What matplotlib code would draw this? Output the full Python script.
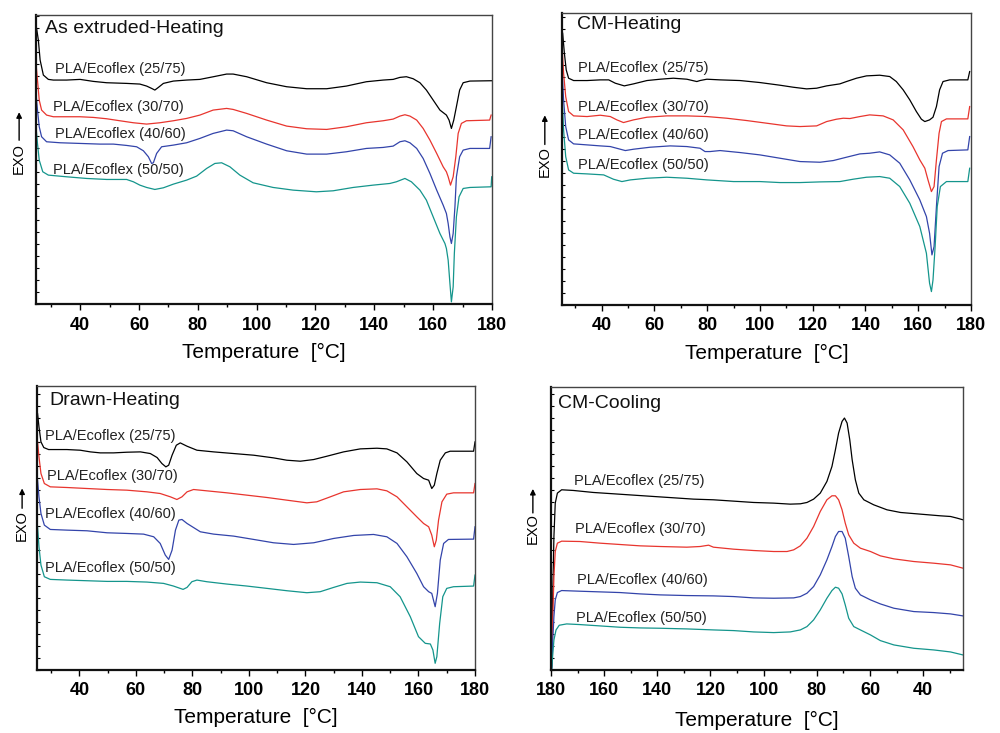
import matplotlib
matplotlib.use('Agg')
import matplotlib.pyplot as plt
from matplotlib.ticker import MultipleLocator

plt.rcParams['font.family'] = ['Liberation Sans', 'DejaVu Sans']

labels = ['PLA/Ecoflex (25/75)', 'PLA/Ecoflex (30/70)', 'PLA/Ecoflex (40/60)', 'PLA/Ecoflex (50/50)']
colors = ['black', '#e8352e', '#3344aa', '#14958c']

# ---- As extruded - heating (arbitrary heat flow units) ----
ext_t_2575 = [25.2, 25.8, 26.4, 27.5, 29.2, 30.9, 35.4, 40, 44.5, 49, 55.8, 60.3, 62.6, 64.3, 65.4, 66.6,
              68.3, 71.7, 76.2, 80.7, 85.3, 89.8, 92, 96.6, 103.4, 110.2, 117, 123.8, 130.5, 137.3, 143,
              146.4, 148.7, 150.9, 153.2, 155.5, 157.7, 160, 162.3, 164.5, 165.4, 166.2, 167, 167.9, 169,
              170.2, 172.5, 180]
ext_v_2575 = [827, 792, 732, 687, 674, 672, 672, 674, 668, 664, 662, 660, 654, 647, 642, 650, 662, 669, 672,
              674, 682, 690, 690, 682, 664, 652, 646, 646, 654, 667, 672, 674, 680, 682, 676, 664, 642, 612,
              582, 567, 552, 527, 552, 592, 642, 664, 669, 670]
ext_t_3070 = [25, 25.5, 26.1, 26.9, 28.6, 30.9, 35.4, 40, 44.5, 49, 53.5, 58.1, 62.6, 67.1, 71.7, 76.2, 80.7,
              85.2, 89.8, 92, 96.6, 103.4, 110.2, 117, 123.8, 130.5, 137.3, 143, 146.4, 148.7, 150.4, 152.1,
              154.4, 156.6, 158.9, 161.2, 163.4, 164.5, 165.1, 165.9, 166.8, 167.7, 168.5, 169.6, 171.3,
              179.2, 179.7]
ext_v_3070 = [722, 672, 612, 582, 567, 562, 562, 562, 560, 556, 550, 544, 540, 544, 550, 557, 567, 582, 587,
              584, 572, 552, 534, 526, 524, 532, 544, 550, 555, 564, 568, 564, 552, 527, 492, 452, 412, 397,
              382, 357, 382, 442, 512, 542, 550, 552, 567]
ext_t_4060 = [25, 25.5, 26.1, 26.9, 28.6, 33.2, 40, 46.7, 51.3, 55.8, 59.2, 61.5, 63.2, 64.3, 64.9, 66, 67.7,
              71.7, 76.2, 80.7, 85.2, 89.8, 92, 96.6, 103.4, 110.2, 117, 123.8, 130.5, 137.3, 143, 146.4,
              148.7, 150.4, 152.1, 154.4, 156.6, 158.9, 161.2, 163.4, 164.5, 165.1, 165.7, 166.2, 166.8,
              167.4, 167.9, 169, 170.2, 172.5, 179.2, 179.7]
ext_v_4060 = [632, 582, 532, 502, 487, 484, 482, 480, 480, 476, 472, 460, 442, 422, 424, 452, 472, 477, 484,
              497, 512, 522, 520, 502, 480, 460, 450, 450, 457, 467, 470, 474, 487, 490, 484, 467, 437, 392,
              342, 297, 272, 242, 202, 182, 212, 292, 382, 442, 462, 467, 467, 502]
ext_t_5050 = [25, 25.5, 26.1, 27.3, 29.2, 35.4, 42.2, 49, 55.8, 58.1, 60.3, 62.6, 65.4, 68.3, 71.7, 76.2,
              79.6, 83, 85.8, 88.1, 90.9, 94.3, 98.8, 105.6, 112.4, 120.3, 126, 132.8, 139.6, 145.3, 147.5,
              150.4, 152.6, 155.5, 157.7, 160, 162.3, 164, 164.5, 165.1, 165.7, 166.2, 166.8, 167.2, 167.9,
              168.8, 170.2, 172.5, 179.7, 179.9]
ext_v_5050 = [532, 482, 432, 397, 387, 382, 377, 374, 374, 367, 357, 350, 344, 349, 360, 372, 384, 407, 422,
              424, 412, 387, 364, 350, 342, 337, 340, 350, 357, 362, 367, 377, 367, 342, 312, 262, 212, 182,
              167, 132, 62, 7, 52, 152, 262, 322, 347, 350, 352, 382]

# ---- CM - heating ----
cmh_t_2575 = [25.25, 25.9, 26.6, 27.5, 29.4, 34.5, 39.5, 42.7, 45.2, 48.6, 52.1, 57.2, 62.2, 67.2, 72.3,
              76.1, 77.3, 79.9, 84.9, 92.5, 100, 107.6, 112.6, 117.7, 121.5, 125.3, 130.3, 132.8, 136.6,
              140.4, 145.4, 149.2, 151.7, 154.3, 156.8, 159.3, 161.2, 162.5, 164.3, 165.6, 166.9, 168.1,
              169.4, 171.9, 178.8, 179.5]
cmh_v_2575 = [815, 755, 705, 680, 673, 673, 675, 675, 665, 657, 663, 673, 677, 680, 677, 670, 673, 677, 675,
              673, 667, 659, 653, 648, 650, 657, 663, 670, 680, 687, 689, 685, 670, 645, 615, 580, 557, 550,
              555, 563, 595, 645, 670, 675, 675, 700]
cmh_t_3070 = [25.1, 25.6, 26.4, 27.5, 29.4, 34.5, 39.5, 43.3, 45.8, 48.3, 52.1, 57.2, 64.7, 72.3, 79.9, 87.4,
              95, 102.6, 110.1, 115.2, 121.5, 125.3, 129, 131.6, 134.1, 137.9, 141.6, 146.7, 150.5, 154.3,
              158, 160.6, 162.5, 163.7, 165, 166, 166.9, 167.9, 168.8, 170.7, 178.8, 179.5]
cmh_v_3070 = [765, 695, 625, 580, 567, 565, 569, 565, 555, 547, 555, 563, 567, 567, 565, 560, 553, 545, 537,
              535, 537, 550, 557, 560, 559, 565, 570, 567, 555, 525, 475, 435, 410, 375, 340, 355, 435, 515,
              550, 558, 558, 595]
cmh_t_4060 = [25.1, 25.6, 26.4, 27.5, 29.4, 34.5, 39.5, 43.3, 47.1, 49, 52.1, 58.4, 66, 72.3, 77.3, 79.2,
              81.1, 84.9, 92.5, 100, 107.6, 115.2, 122.8, 127.8, 132.8, 137.9, 141.6, 145.4, 149.2, 153,
              156.8, 160.6, 163.1, 164.3, 165.2, 166, 166.9, 167.9, 169.2, 171.3, 178.8, 179.5]
cmh_v_4060 = [695, 615, 535, 495, 483, 480, 477, 475, 467, 463, 467, 473, 477, 475, 470, 460, 460, 463, 457,
              450, 440, 430, 428, 433, 443, 453, 455, 459, 450, 425, 375, 315, 265, 215, 150, 175, 295, 415,
              455, 463, 465, 505]
cmh_t_5050 = [25.1, 25.6, 26.4, 27.5, 29.4, 34.5, 40.8, 44.5, 47.7, 50.9, 57.2, 64.7, 72.3, 79.9, 90, 100,
              107.6, 115.2, 122.8, 130.3, 135.3, 140.4, 145.4, 149.2, 153, 156.8, 160.6, 163.1, 164.3, 165,
              165.6, 166.4, 167.2, 168.4, 170.7, 178.8, 179.5]
cmh_v_5050 = [615, 525, 445, 405, 395, 393, 390, 377, 370, 375, 380, 383, 380, 375, 370, 370, 367, 367, 369,
              370, 377, 383, 385, 380, 355, 305, 235, 155, 65, 40, 75, 175, 295, 355, 370, 370, 410]

# ---- Drawn - heating ----
drw_t_2575 = [25.2, 25.7, 26.4, 27.4, 29.1, 35.6, 40.3, 43.9, 47.4, 52.1, 56.8, 61.6, 65.1, 67.5, 69.2, 70.6,
              71.6, 72.8, 74.3, 75.7, 78.1, 81.6, 87.5, 94.6, 101.7, 108.7, 113.4, 118.2, 122.9, 127.6,
              133.5, 139.4, 145.3, 148.8, 152.4, 155.9, 159.4, 161.8, 163.6, 164.7, 165.6, 166.5, 167.7,
              169.5, 171.2, 179.5, 180]
drw_v_2575 = [770, 730, 685, 668, 662, 662, 660, 655, 652, 652, 654, 655, 650, 638, 620, 610, 615, 645, 675,
              682, 672, 660, 655, 650, 645, 637, 630, 627, 632, 642, 655, 664, 666, 664, 652, 625, 590, 575,
              570, 545, 555, 590, 630, 652, 657, 657, 685]
drw_t_3070 = [25.2, 25.7, 26.4, 27.6, 29.7, 35.6, 42.7, 49.8, 56.8, 63.9, 68.6, 72.2, 74.5, 76.3, 78.1, 80.4,
              85.1, 92.2, 99.3, 106.4, 113.4, 120.5, 124, 128.8, 133.5, 139.4, 145.3, 148.8, 152.4, 155.9,
              159.4, 161.8, 163.6, 164.7, 165.6, 166.3, 167.1, 168.3, 170, 172.4, 179.5, 180]
drw_v_3070 = [685, 640, 590, 560, 550, 548, 545, 542, 540, 535, 530, 520, 512, 520, 535, 542, 538, 532, 525,
              518, 510, 502, 505, 520, 535, 542, 544, 538, 520, 490, 460, 440, 430, 405, 370, 390, 450, 505,
              528, 532, 532, 560]
drw_t_4060 = [25.2, 25.7, 26.4, 27.6, 29.7, 35.6, 42.7, 49.8, 56.8, 62.7, 66.3, 68.6, 70.4, 71.6, 72.8, 74,
              75.2, 76.3, 78.1, 82.8, 87.5, 94.6, 101.7, 108.7, 115.8, 122.9, 130, 137.1, 144.1, 148.8,
              152.4, 155.9, 159.4, 161.8, 163.6, 164.7, 165.3, 165.9, 166.7, 167.7, 168.9, 170.6, 179.5, 180]
drw_v_4060 = [570, 520, 470, 435, 422, 420, 418, 412, 410, 408, 400, 380, 345, 332, 360, 420, 450, 452, 440,
              415, 408, 402, 392, 382, 377, 382, 395, 404, 407, 400, 380, 340, 290, 250, 235, 230, 210, 190,
              230, 330, 380, 392, 393, 430]
drw_t_5050 = [25.2, 25.7, 26.4, 27.6, 29.7, 35.6, 42.7, 49.8, 56.8, 63.9, 69.8, 73.3, 76.7, 78.1, 79.8, 81.6,
              85.1, 92.2, 99.3, 106.4, 113.4, 120.5, 125.2, 130, 134.7, 139.4, 145.3, 150, 153.5, 157.1, 160,
              162.4, 164.2, 165.1, 165.9, 166.5, 167.5, 168.6, 170, 172.4, 179.5, 180]
drw_v_5050 = [430, 370, 315, 280, 272, 270, 268, 266, 266, 264, 260, 252, 242, 248, 265, 270, 265, 258, 252,
              245, 238, 232, 235, 248, 260, 264, 262, 250, 220, 160, 100, 80, 78, 60, 20, 40, 140, 220, 245,
              250, 252, 285]

# ---- CM - cooling ----
cmc_t_2575 = [180, 179.7, 179.4, 178.9, 178.4, 177.6, 176, 171.6, 164.1, 156.5, 149, 141.5, 133.9, 126.4,
              118.9, 111.3, 103.8, 96.2, 90, 86.2, 83.7, 81.2, 78.7, 76.2, 74.3, 73, 71.8, 70.5, 69.6, 68.6,
              67.6, 66.7, 65.5, 64.2, 62.3, 58.6, 53.6, 48.5, 41, 33.5, 29.7, 27.2, 25]
cmc_v_2575 = [0, 20, 200, 400, 500, 530, 540, 538, 532, 528, 524, 520, 516, 512, 510, 506, 502, 500, 497, 498,
              502, 512, 530, 565, 610, 660, 710, 745, 755, 740, 690, 630, 570, 530, 510, 495, 480, 472, 467,
              462, 460, 455, 450]
cmc_t_3070 = [180, 179.7, 179.4, 178.9, 178.4, 177.6, 176, 169.1, 161.5, 154, 146.5, 138.9, 128.9, 123.9,
              120.7, 118.9, 111.3, 103.8, 96.2, 91.2, 88.7, 86.2, 83.7, 81.2, 78.7, 76.2, 74.3, 73, 71.8,
              70.5, 69.3, 68, 66.1, 63.6, 59.8, 56.1, 51, 43.5, 36, 29.7, 25]
cmc_v_3070 = [0, 10, 140, 280, 355, 380, 386, 385, 380, 376, 372, 370, 368, 370, 374, 368, 362, 358, 355, 355,
              360, 372, 395, 430, 475, 510, 522, 522, 510, 480, 440, 405, 380, 365, 355, 342, 333, 325, 320,
              315, 305]
cmc_t_4060 = [180, 179.7, 179.4, 178.9, 178.4, 177.6, 176, 169.1, 161.5, 154, 146.5, 138.9, 128.9, 118.9,
              111.3, 103.8, 96.2, 88.7, 86.2, 83.7, 81.2, 78.7, 76.2, 74.3, 73, 71.8, 70.5, 69.3, 68, 66.7,
              65.5, 63.6, 59.8, 56.1, 51, 43.5, 36, 29.7, 25]
cmc_v_4060 = [0, 5, 80, 160, 210, 232, 238, 236, 234, 232, 228, 225, 223, 222, 220, 216, 215, 216, 220, 230,
              250, 285, 330, 370, 400, 415, 415, 395, 340, 280, 245, 225, 210, 198, 185, 175, 172, 168, 162]
cmc_t_5050 = [180, 179.7, 179.4, 178.9, 178.1, 176.9, 174.1, 169.1, 161.5, 154, 146.5, 138.9, 128.9, 118.9,
              111.3, 103.8, 96.2, 90, 86.2, 83.7, 81.2, 78.7, 76.2, 74.3, 73, 71.8, 70.5, 69.3, 68, 66.1,
              63.6, 59.8, 56.1, 51, 43.5, 36, 29.7, 25]
cmc_v_5050 = [0, 2, 40, 90, 120, 134, 138, 136, 132, 128, 126, 125, 123, 120, 118, 114, 112, 114, 120, 130,
              150, 180, 215, 238, 248, 245, 228, 195, 155, 130, 120, 105, 88, 75, 65, 60, 54, 45]

panels = [
    dict(title='As extruded-Heating', rect=[0.036, 0.585, 0.456, 0.3945], ymax=867, xlim=(25, 180),
         curves=[(ext_t_2575, ext_v_2575), (ext_t_3070, ext_v_3070), (ext_t_4060, ext_v_4060), (ext_t_5050, ext_v_5050)],
         lab_x=[31.5, 30.9, 31.5, 30.9], lab_y=[705, 592, 510, 402], title_xy=(28.1, 827),
         exo=(-0.037, 0.505), arrow=(0.567, 0.664), lpad=7),
    dict(title='CM-Heating', rect=[0.562, 0.584, 0.409, 0.398], ymax=875, xlim=(25, 180),
         curves=[(cmh_t_2575, cmh_v_2575), (cmh_t_3070, cmh_v_3070), (cmh_t_4060, cmh_v_4060), (cmh_t_5050, cmh_v_5050)],
         lab_x=[31.05, 31.05, 31.05, 31.05], lab_y=[710, 595, 510, 420], title_xy=(30.7, 840),
         exo=(-0.042, 0.493), arrow=(0.55, 0.65), lpad=7),
    dict(title='Drawn-Heating', rect=[0.037, 0.086, 0.438, 0.387], ymax=852, xlim=(25, 180),
         curves=[(drw_t_2575, drw_v_2575), (drw_t_3070, drw_v_3070), (drw_t_4060, drw_v_4060), (drw_t_5050, drw_v_5050)],
         lab_x=[27.9, 28.5, 27.9, 27.9], lab_y=[702, 582, 468, 305], title_xy=(29.5, 810),
         exo=(-0.034, 0.51), arrow=(0.57, 0.64), lpad=6),
    dict(title='CM-Cooling', rect=[0.551, 0.086, 0.412, 0.386], ymax=848, xlim=(180, 25),
         curves=[(cmc_t_2575, cmc_v_2575), (cmc_t_3070, cmc_v_3070), (cmc_t_4060, cmc_v_4060), (cmc_t_5050, cmc_v_5050)],
         lab_x=[171.3, 170.8, 170.3, 170.7], lab_y=[567, 422, 270, 155], title_xy=(177.2, 800),
         exo=(-0.044, 0.498), arrow=(0.555, 0.64), lpad=8),
]

fig = plt.figure(figsize=(10, 7.33), dpi=100)

for p in panels:
    ax = fig.add_axes(p['rect'])
    for (t, v), c, lab, lx, ly in zip(p['curves'], colors, labels, p['lab_x'], p['lab_y']):
        ax.plot(t, v, color=c, lw=0.9)
        ax.text(lx, ly, lab, fontsize=10.5, va='center', ha='left', color='#222222')
    ax.text(p['title_xy'][0], p['title_xy'][1], p['title'], fontsize=14, va='center', ha='left',
            color='#111111')
    ax.set_xlim(*p['xlim'])
    ax.set_ylim(0, p['ymax'])
    ax.xaxis.set_minor_locator(MultipleLocator(10))
    ax.yaxis.set_major_locator(MultipleLocator(36))
    ax.tick_params(axis='x', which='major', direction='out', length=4, width=1, pad=5)
    ax.tick_params(axis='x', which='minor', direction='out', length=2.5, width=1)
    ax.tick_params(axis='y', which='major', direction='in', length=2.5, width=0.8, labelleft=False)
    xt = [x for x in range(40, 181, 20)]
    ax.set_xticks(xt)
    ax.set_xticklabels([str(x) for x in xt], fontweight='bold', fontsize=13)
    ax.set_xlabel('Temperature  [°C]', fontsize=15, labelpad=p['lpad'])
    for s in ax.spines.values():
        s.set_linewidth(1.0)
        s.set_color('#444444')
    ax.spines['left'].set_linewidth(1.6)
    ax.spines['bottom'].set_linewidth(1.6)
    ax.spines['left'].set_color('#111111')
    ax.spines['bottom'].set_color('#111111')
    ax.text(p['exo'][0], p['exo'][1], 'EXO', transform=ax.transAxes, rotation=90, fontsize=10.5,
            ha='center', va='center')
    ax.annotate('', xy=(p['exo'][0], p['arrow'][1]), xytext=(p['exo'][0], p['arrow'][0]),
                xycoords='axes fraction', textcoords='axes fraction', annotation_clip=False,
                arrowprops=dict(arrowstyle='-|>', color='black', lw=1.0, mutation_scale=8,
                                shrinkA=0, shrinkB=0))

plt.savefig('out.png', dpi=100)
